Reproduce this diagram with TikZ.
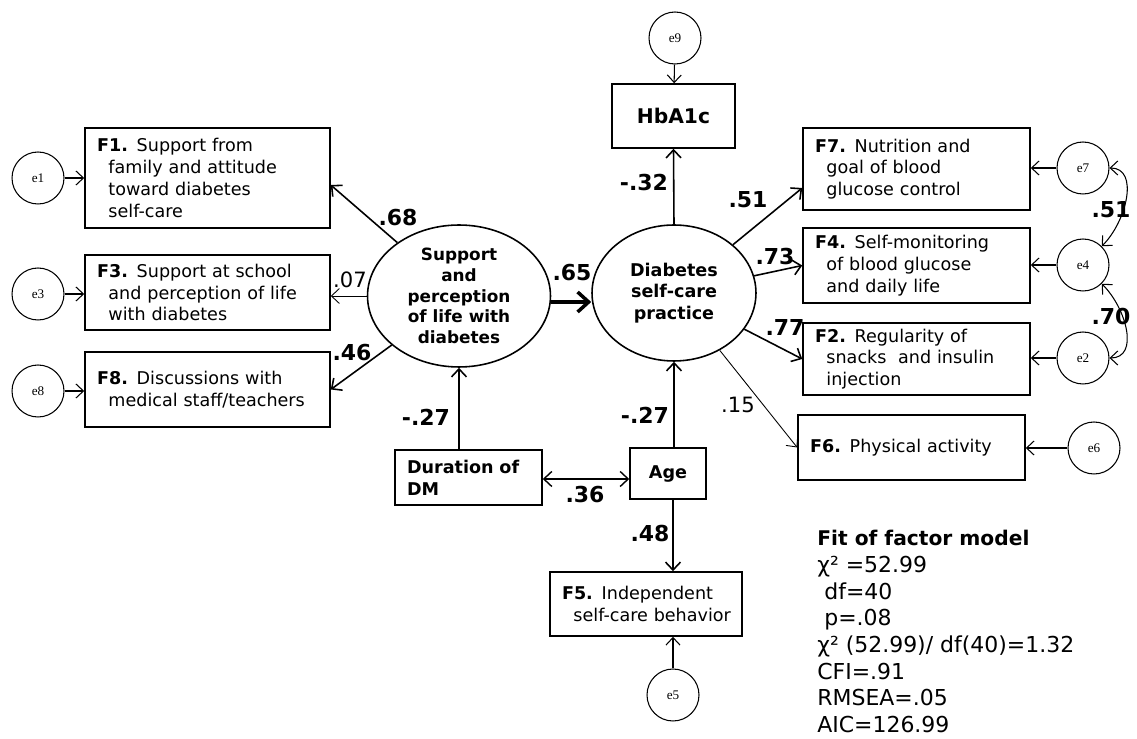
\documentclass[tikz,border=0pt]{standalone}
\usepackage{fontspec}
\setmainfont{DejaVu Sans}
\newfontfamily\errfont{Liberation Serif}
\usepackage{tikz}
\usetikzlibrary{arrows.meta, shapes.geometric, calc}
\newcommand{\ind}{\hspace*{0.65em}}

\begin{document}
\begin{tikzpicture}[x=0.02cm, y=-0.02cm,
        factor/.style={draw, line width=0.9pt, align=left, inner xsep=0.24cm, inner ysep=0pt, font=\fontsize{10}{12.4}\selectfont},
        observed/.style={draw, line width=0.9pt, align=left, inner xsep=0.24cm, inner ysep=0pt, font=\bfseries\fontsize{10}{12.4}\selectfont},
        latent/.style={draw, ellipse, line width=0.9pt, align=center, inner sep=0pt, font=\bfseries\fontsize{9.6}{11.8}\selectfont},
        errc/.style={draw, circle, line width=0.6pt, minimum size=1.04cm, inner sep=0pt, font=\errfont\fontsize{7.5}{9}\selectfont},
        coef/.style={inner sep=0pt, font=\bfseries\fontsize{12.5}{14}\selectfont},
        coefthin/.style={inner sep=0pt, font=\fontsize{12}{14}\selectfont},
        loadarr/.style={line width=0.9pt, -{Straight Barb[length=1.6mm, width=3mm]}},
        thinarr/.style={line width=0.5pt, -{Straight Barb[length=1.6mm, width=3mm]}},
        bigarr/.style={line width=2pt, -{Straight Barb[length=2.2mm, width=4mm]}},
        errarr/.style={line width=0.6pt, -{Straight Barb[length=1.5mm, width=2.8mm]}},
        corrarr/.style={line width=0.6pt, {Straight Barb[length=1.5mm, width=2.8mm]}-{Straight Barb[length=1.5mm, width=2.8mm]}}]
        \useasboundingbox (0,0) rectangle (1137,739);

        % Latent variables
        \node[latent, minimum width=3.66cm, minimum height=2.84cm] (supp) at (459,296) {Support\\and\\perception\\of life with\\diabetes};
        \node[latent, font=\bfseries\fontsize{10}{12.4}\selectfont, minimum width=3.28cm, minimum height=2.72cm] (prac) at (674,293) {Diabetes\\self-care\\practice};

        % Left factors
        \node[factor, text width=4.42cm, minimum height=2cm] (F1) at (207.5,178) {\textbf{F1.} Support from\\\ind family and attitude\\\ind toward diabetes\\\ind self-care};
        \node[factor, text width=4.42cm, minimum height=1.5cm] (F3) at (207.5,292.5) {\textbf{F3.} Support at school\\\ind and perception of life\\\ind with diabetes};
        \node[factor, text width=4.42cm, minimum height=1.5cm] (F8) at (207.5,389.5) {\textbf{F8.} Discussions with\\\ind medical staff/teachers};

        % Right factors
        \node[factor, text width=4.06cm, minimum height=1.64cm] (F7) at (916.5,169) {\textbf{F7.} Nutrition and\\\ind goal of blood\\\ind glucose control};
        \node[factor, text width=4.06cm, minimum height=1.5cm] (F4) at (916.5,265.5) {\textbf{F4.} Self-monitoring\\\ind of blood glucose\\\ind and daily life};
        \node[factor, text width=4.06cm, minimum height=1.44cm] (F2) at (916.5,359) {\textbf{F2.} Regularity of\\\ind snacks\ \ and insulin\\\ind injection};
        \node[factor, text width=4.06cm, minimum height=1.3cm] (F6) at (911.5,447.5) {\textbf{F6.} Physical activity};

        % Observed variables
        \node[observed, align=center, font=\bfseries\fontsize{11.5}{13}\selectfont, minimum width=2.46cm, minimum height=1.28cm] (hba) at (673.5,116) {HbA1c};
        \node[observed, text width=2.46cm, minimum height=1.1cm] (dur) at (468.5,477.5) {Duration of\\DM};
        \node[observed, align=center, minimum width=1.52cm, minimum height=1.02cm] (age) at (668,473.5) {Age};
        \node[factor, text width=3.36cm, minimum height=1.28cm] (F5) at (646,604) {\textbf{F5.} Independent\\\ind\mbox{self-care behavior}};

        % Error terms
        \node[errc] (e1) at (38,178) {e1};
        \node[errc] (e3) at (38,294) {e3};
        \node[errc] (e8) at (38,391) {e8};
        \node[errc] (e9) at (675,38) {e9};
        \node[errc] (e7) at (1083,168) {e7};
        \node[errc] (e4) at (1083,265) {e4};
        \node[errc] (e2) at (1083,358) {e2};
        \node[errc] (e6) at (1094,448) {e6};
        \node[errc] (e5) at (673,695) {e5};

        % Loadings
        \draw[loadarr] (supp) -- ([yshift=-0.14cm]F1.east);
        \draw[thinarr] (supp) -- (supp -| F3.east);
        \draw[loadarr] (supp) -- (F8.east);
        \draw[bigarr] ([yshift=-0.12cm]supp.east) -- ([yshift=-0.12cm]supp.east -| prac.west);
        \draw[loadarr] (prac) -- ([yshift=-0.38cm]F7.west);
        \draw[loadarr] (prac) -- (F4.west);
        \draw[loadarr] (prac) -- (F2.west);
        \draw[thinarr] (prac) -- (F6.west);
        \draw[loadarr] (prac.north) -- (hba.south);
        \draw[loadarr] (dur.north -| supp.south) -- (supp.south);
        \draw[loadarr] (age.north -| prac.south) -- (prac.south);
        \draw[loadarr] (age.south -| e5) -- (F5.north -| e5);
        \draw[line width=0.8pt, {Straight Barb[length=1.6mm, width=3mm]}-{Straight Barb[length=1.6mm, width=3mm]}] ([yshift=-0.03cm]dur.east) -- ([yshift=-0.03cm]dur.east -| age.west);

        % Errors
        \draw[errarr] (e1) -- (F1.west);
        \draw[errarr] (e3) -- (e3 -| F3.west);
        \draw[errarr] (e8) -- (e8 -| F8.west);
        \draw[errarr] (e9) -- (hba);
        \draw[errarr] (e7) -- (e7 -| F7.east);
        \draw[errarr] (e4) -- (e4 -| F4.east);
        \draw[errarr] (e2) -- (e2 -| F2.east);
        \draw[errarr] (e6) -- (e6 -| F6.east);
        \draw[errarr] (e5) -- (e5 |- F5.south);
        \draw[corrarr] (e7.east) .. controls +(30,0) and +(25,-25) .. (e4.north east);
        \draw[corrarr] (e4.south east) .. controls +(25,25) and +(30,0) .. (e2.east);

        % Coefficients
        \node[coef] (c68) at (398,218) {.68};
        \node[coefthin] (c07) at (350,280) {.07};
        \node[coef] (c46) at (352,353) {.46};
        \node[coef] (c65) at (572,273) {.65};
        \node[coef] (c32) at (644,183) {-.32};
        \node[coef] (c51) at (748,200) {.51};
        \node[coef] (c73) at (775,257) {.73};
        \node[coef] (c77) at (785,328) {.77};
        \node[coefthin] (c15) at (738,405) {.15};
        \node[coef] (c27a) at (426,417) {-.27};
        \node[coef] (c27b) at (645,415) {-.27};
        \node[coef] (c36) at (585,495) {.36};
        \node[coef] (c48) at (650,534) {.48};
        \node[coef] (r51) at (1111,210) {.51};
        \node[coef] (r70) at (1111,317) {.70};

        % Fit
        \node[anchor=north west, align=left, inner sep=0pt, font=\fontsize{12.5}{15.2}\selectfont] (fit) at (817,530) {{\bfseries\fontsize{11.5}{15.2}\selectfont Fit of factor model}\\χ² =52.99\\\ df=40\\\ p=.08\\χ² (52.99)/ df(40)=1.32\\CFI=.91\\RMSEA=.05\\AIC=126.99};
    \end{tikzpicture}
\end{document}
